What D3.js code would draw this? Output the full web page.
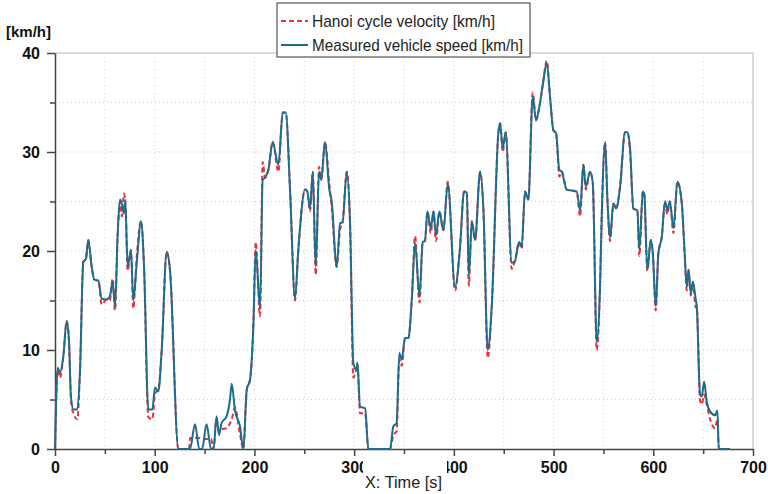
<!DOCTYPE html>
<html lang="en">
<head>
    <meta charset="UTF-8">
    <title>Hanoi cycle vs measured speed</title>
<script src="https://d3js.org/d3.v7.min.js"></script>
    <style>
        body{
            margin: 0;
            background: #fff;
            font-family: "Liberation Sans", Arial, sans-serif;
        }
        .axis path, .axis line{
            stroke: #444;
            stroke-width: 1.5;
        }
        .axis text{
            font-family: "Liberation Sans", Arial, sans-serif;
            font-weight: bold;
            font-size: 16px;
            fill: #111;
        }
        .grid line{
            stroke: #cdcdcd;
            stroke-dasharray: 1,3;
        }
    </style>
</head>
<body>
<svg width="768" height="494" id="canvas"></svg>
<script>

    // time [s]
    let timeS = [0, 2.7, 5, 8.3, 11.7, 14, 16, 18.4, 22.4, 25, 28.4, 31, 33.4, 36.8, 39.5, 43.5, 46.8, 51.8, 55, 57.8,
        60.2, 62.9, 65.2, 67, 69.2, 70.5, 72.9, 76.2, 78.5, 82, 86.3, 89.3, 93.6, 97.6, 100.3, 103.6, 107, 112, 115.3, 123.7,
        134.5, 135.4, 140.4, 144.7, 147.5, 152, 156.5, 159, 162, 164.5, 167, 172, 175.5, 177.2, 180.5, 185.5, 188.9,
        192.3, 195.6, 199, 201.3, 205.6, 208.3, 210.6, 214, 218.3, 224, 228.4, 231.4, 235.7, 240.7, 244, 250.8, 253,
        255.8, 258.5, 261.5, 264.8, 267, 270.8, 275.1, 277.5, 282.5, 285.9, 288.4, 292.6, 295.9, 299.2, 302, 303.3,
        305.9, 311, 314.3, 336, 339.3, 342.6, 345.3, 347.7, 351, 354.4, 357.8, 361.1, 365.5, 368.8, 371, 373.5, 376.8,
        379.6, 382.1, 385.5, 389.5, 393.9, 401.2, 406.2, 410.2, 413, 415, 418, 421.3, 426.3, 429.6, 434, 438, 444.7,
        446.4, 449, 452, 458, 461.3, 465.4, 468, 471.4, 474.7, 479.1, 482.4, 485.8, 489.2, 493.2, 496.5, 499.8, 502.5,
        505.8, 508.2, 513.2, 523.2, 526.6, 529.9, 532.3, 536.6, 539.3, 543.3, 546.6, 548.3, 551.7, 554, 556.7, 560,
        562.7, 566.7, 571.7, 574, 576.7, 580, 584, 586, 589.5, 591, 594, 597.5, 599.5, 602.5, 605.1, 608.5, 611.8,
        614, 616.7, 620.2, 624.2, 628.6, 631.3, 633.6, 635.3, 637.7, 639.6, 642.6, 643.6, 646.9, 648.6, 651, 653.6,
        657, 662, 664.3, 665.7, 677];

    // Hanoi cycle velocity [km/h]
    let hanoiKmh = [0, 8.0, 7.2, 9.3, 12.9, 11, 5.0, 3.6, 3.0, 7.7, 18.9, 19.2, 21.1, 18.4, 17.1, 17.0, 14.6, 15.1, 15.0, 17.2,
        14.0, 21.8, 25.0, 23.5, 25.8, 25.0, 18.0, 20.1, 14.2, 19.5, 23.0, 18.4, 3.2, 3.0, 5.6, 6.0, 10, 19.9, 18.1, 0,
        0, 1.1, 1.1, 1.1, 1.0, 1.0, 1.0, 0, 3.0, 1.8, 2.0, 2.1, 2.6, 3.0, 4.2, 1.5, 0,
        6.0, 7.0, 12.7, 20.9, 13.4, 29.0, 27.4, 28.2, 31.0, 28.0, 34, 34, 26.2, 15.0, 20.1, 26.2, 26.0,
        24.0, 28.0, 17.6, 28.5, 27.2, 31.0, 26.8, 24.4, 18.4, 22.2, 22.9, 28.0, 22.8, 7.2, 8.0, 8.6,
        3.6, 3.6, 0, 0, 1.4, 1.8, 9.0, 8.4, 11.2, 11.2, 15.1, 21.5, 14.8, 20.9, 21.0, 24.0, 21.8,
        24.0, 21.0, 24.0, 22.1, 27.0, 16.0, 20.4, 26.0, 25.9, 16.5, 23.0, 21.1, 28.0, 24.3, 9.2, 14.4, 32.0,
        32.9, 30.0, 32.0, 18.2, 19.0, 20.9, 20.2, 26.0, 25.2, 36.0, 33.2, 34.6, 36.8, 39.2, 35.5, 32.2, 31.9,
        27.5, 28.0, 26.2, 26.0, 23.5, 28.7, 26.2, 28.0, 26.9, 10.0, 16.4, 23.5, 31.0, 25.2, 21.0, 24.8,
        24.3, 26.5, 32.0, 32.0, 30.0, 24.3, 24.1, 19.5, 26.0, 25.7, 18.0, 21.1, 19.8, 14.0, 19.8, 21.4, 25.0,
        23.7, 25.0, 21.8, 27.0, 24.8, 20.1, 16.0, 18.1, 15.5, 16.9, 14.3, 14.4, 4.9, 4.5, 5.5, 4.5,
        3.0, 2.1, 3.0, 0, 0];

    // Measured vehicle speed [km/h]
    let measuredKmh = [0, 8.2, 7.7, 9.3, 12.9, 11, 5.3, 4.0, 4.0, 7.7, 18.9, 19.2, 21.1, 18.4, 17.1, 17.0, 15.2, 15.1, 15.4, 16.9,
        14.4, 21.8, 25.2, 24.8, 23.8, 25.2, 18.4, 20.1, 15.0, 18.8, 23.0, 18.4, 4.0, 4.0, 6.2, 5.8, 10, 19.9, 18.1, 0,
        0, 0, 2.5, 0, 0, 2.5, 0, 0, 3.3, 1.4, 2.6, 3.3, 5.0, 6.6, 3.9, 2.3, 0,
        6.0, 7.0, 12.7, 20.1, 14.2, 27.2, 27.4, 28.2, 31.0, 28.7, 34, 34, 26.2, 15.2, 20.1, 26.2, 26.0,
        24.3, 28.0, 18.4, 28.0, 27.2, 31.0, 26.2, 25.0, 18.4, 22.8, 22.9, 28.0, 22.8, 8.7, 8.0, 8.7,
        4.3, 4.1, 0, 0, 2.3, 2.6, 9.7, 9.0, 11.2, 11.2, 15.1, 20.8, 15.4, 20.9, 21.0, 24.0, 22.3,
        24.0, 21.6, 24.0, 22.1, 26.8, 16.4, 20.4, 26.0, 25.9, 17.4, 23.0, 21.1, 28.0, 24.3, 10.0, 14.4, 32.0,
        32.9, 30.4, 32.0, 18.8, 19.0, 20.9, 20.4, 26.0, 25.2, 35.6, 33.2, 34.6, 36.8, 39.0, 35.5, 32.2, 31.9,
        28.2, 28.0, 26.2, 26.0, 24.1, 28.7, 26.5, 28.0, 26.9, 10.8, 16.4, 23.5, 30.9, 25.2, 21.4, 24.8,
        24.3, 26.5, 32.0, 32.0, 30.4, 24.3, 24.1, 20.1, 26.0, 25.7, 18.1, 21.1, 19.8, 14.4, 19.8, 21.4, 25.0,
        24.2, 25.0, 22.3, 27.0, 24.8, 20.1, 16.4, 18.1, 15.7, 16.9, 15.1, 14.4, 5.5, 5.3, 6.8, 4.8,
        3.8, 3.4, 3.9, 0, 0];

    let xTicks = [0, 100, 200, 300, 400, 500, 600, 700];
    let yTicks = [0, 10, 20, 30, 40];
    let legendLabels = ["Hanoi cycle velocity [km/h]", "Measured vehicle speed [km/h]"];
    let legendWidths = [183, 211];
    let seriesColors = ["#e8323c", "#1d6d8c"];

    let svg = d3.select("svg");

    const margin = {left: 55, top: 53};
    const fig_width = 698;
    const fig_height = 396;

    const figure = svg.append("g").attr("transform", `translate(${margin.left},${margin.top})`);

    let xScale = d3.scaleLinear().domain([0, 700]).range([0, fig_width]);
    let yScale = d3.scaleLinear().domain([0, 40]).range([fig_height, 0]);

    // grid (every 50 s and every 5 km/h)
    let xGrid = d3.range(50, 700, 50);
    let yGrid = d3.range(5, 40, 5);
    figure.append("g").attr("class", "grid")
        .selectAll("line").data(xGrid).enter().append("line")
        .attr("x1", d => xScale(d)).attr("x2", d => xScale(d))
        .attr("y1", 0).attr("y2", fig_height);
    figure.append("g").attr("class", "grid")
        .selectAll("line").data(yGrid).enter().append("line")
        .attr("x1", 0).attr("x2", fig_width)
        .attr("y1", d => yScale(d)).attr("y2", d => yScale(d));

    // top and right border
    figure.append("line").attr("x1", 0).attr("x2", fig_width).attr("y1", yScale(40)).attr("y2", yScale(40))
        .attr("stroke", "#cfcfcf").attr("stroke-width", 1.5);
    figure.append("line").attr("x1", xScale(700)).attr("x2", xScale(700)).attr("y1", 0).attr("y2", fig_height)
        .attr("stroke", "#cfcfcf").attr("stroke-width", 1.5);

    // minor ticks
    figure.append("g").attr("class", "axis")
        .attr("transform", `translate(0,${fig_height})`)
        .call(d3.axisBottom(xScale).tickValues(d3.range(50, 700, 100)).tickSize(5).tickFormat(""))
        .select(".domain").remove();
    figure.append("g").attr("class", "axis")
        .call(d3.axisLeft(yScale).tickValues(d3.range(5, 40, 10)).tickSize(5).tickFormat(""))
        .select(".domain").remove();

    // major axes
    let x_axis = d3.axisBottom(xScale).tickValues(xTicks).tickSize(7).tickSizeOuter(0).tickPadding(6);
    let y_axis = d3.axisLeft(yScale).tickValues(yTicks).tickSize(8).tickSizeOuter(0).tickPadding(7);
    figure.append("g").attr("class", "axis")
        .attr("transform", `translate(0,${fig_height})`)
        .call(x_axis);
    figure.append("g").attr("class", "axis")
        .call(y_axis);

    // lines
    let pts = timeS.map((t, i) => ({t: t, h: hanoiKmh[i], m: measuredKmh[i]}));
    let lineH = d3.line().x(d => xScale(d.t)).y(d => yScale(d.h)).curve(d3.curveMonotoneX);
    let lineM = d3.line().x(d => xScale(d.t)).y(d => yScale(d.m)).curve(d3.curveMonotoneX);

    figure.append("path").datum(pts)
        .attr("d", lineH)
        .attr("fill", "none")
        .attr("stroke", seriesColors[0])
        .attr("stroke-width", 2)
        .attr("stroke-dasharray", "5,3");
    figure.append("path").datum(pts)
        .attr("d", lineM)
        .attr("fill", "none")
        .attr("stroke", seriesColors[1])
        .attr("stroke-width", 2);

    // y unit label
    svg.append("text")
        .attr("x", 6).attr("y", 37)
        .attr("font-weight", "bold").attr("font-size", 15)
        .attr("fill", "#111")
        .text("[km/h]");

    // x label with white box
    svg.append("rect")
        .attr("x", 363).attr("y", 459).attr("width", 84).attr("height", 35)
        .attr("fill", "#fff");
    svg.append("text")
        .attr("x", 365).attr("y", 488)
        .attr("font-size", 17)
        .attr("textLength", 77).attr("lengthAdjust", "spacingAndGlyphs")
        .attr("fill", "#222")
        .text("X: Time [s]");

    // legend
    let legend = svg.append("g").attr("transform", "translate(277,3)");
    legend.append("rect")
        .attr("width", 253).attr("height", 54)
        .attr("fill", "#fff")
        .attr("stroke", "#555").attr("stroke-width", 1.2);
    legendLabels.forEach(function (lbl, i) {
        let yy = 18 + i * 24;
        legend.append("line")
            .attr("x1", 4).attr("x2", 31).attr("y1", yy).attr("y2", yy)
            .attr("stroke", seriesColors[i]).attr("stroke-width", 2)
            .attr("stroke-dasharray", i === 0 ? "5,3" : null);
        legend.append("text")
            .attr("x", 35).attr("y", yy + 6)
            .attr("font-size", 17)
            .attr("textLength", legendWidths[i]).attr("lengthAdjust", "spacingAndGlyphs")
            .attr("fill", "#222")
            .text(lbl);
    });

</script>
</body>
</html>
